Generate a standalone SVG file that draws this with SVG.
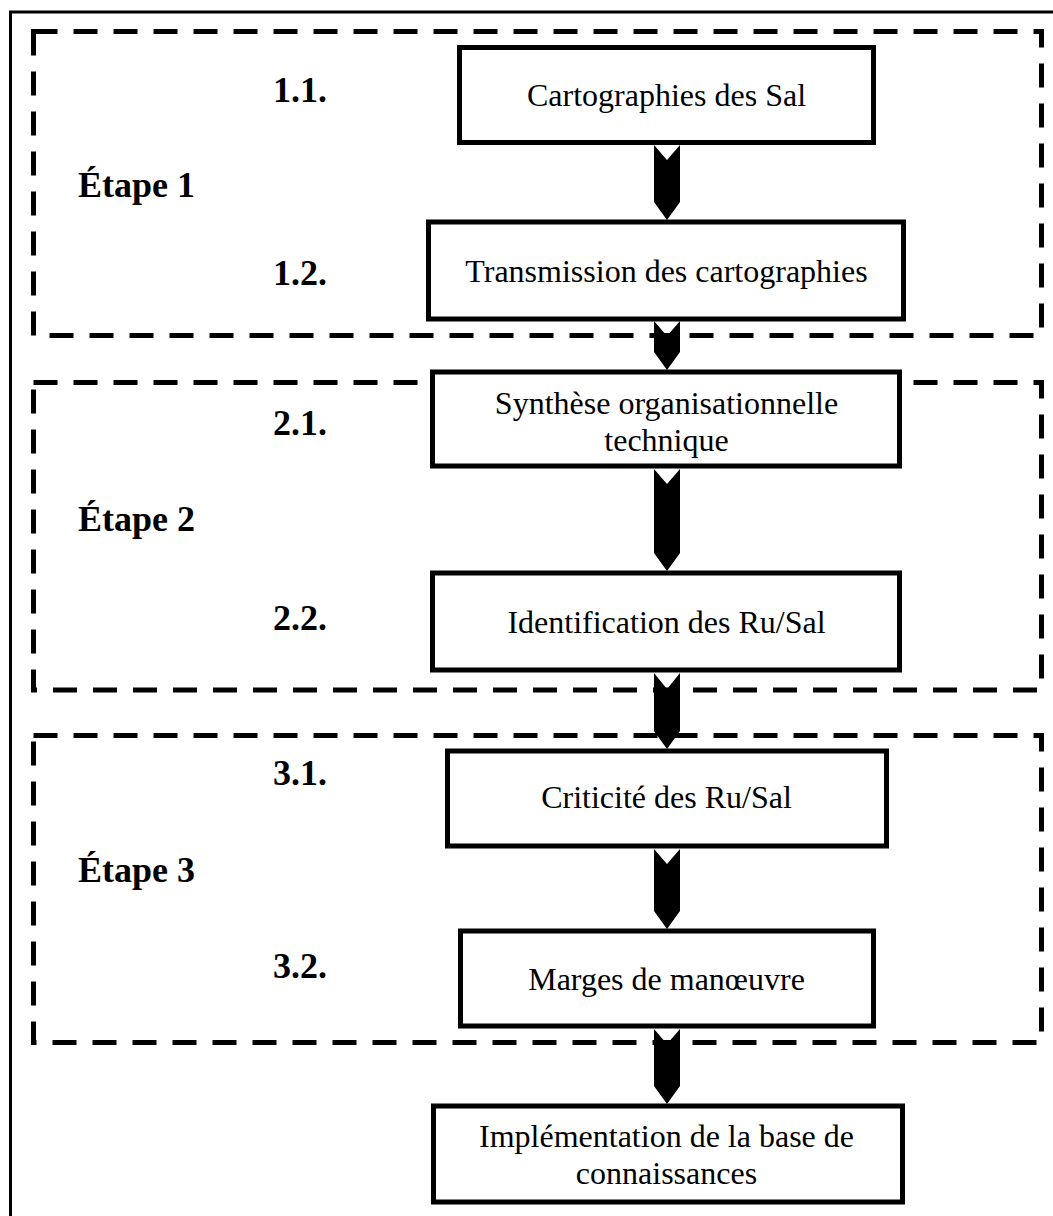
<svg xmlns="http://www.w3.org/2000/svg" width="1053" height="1216" viewBox="0 0 1053 1216">
  <style>
    .frame { fill: none; stroke: #000; stroke-width: 3; }
    .stage { fill: none; stroke: #000; stroke-width: 5; stroke-dasharray: 24 16; }
    .box { fill: #fff; stroke: #000; stroke-width: 5; }
    .txt { font-family: "Liberation Serif", "Times New Roman", serif; font-size: 32px; fill: #000; text-anchor: middle; }
    .lbl { font-family: "Liberation Serif", "Times New Roman", serif; font-size: 36px; font-weight: bold; fill: #000; }
    .arrow { fill: #000; stroke: none; }
  </style>
  <rect width="1053" height="1216" fill="#fff"/>

  <!-- outer frame (continues past the right and bottom edges) -->
  <rect class="frame" x="10.5" y="12" width="1060" height="1230"/>

  <!-- stage outlines -->
  <g id="stages">
    <rect id="stage1" class="stage" x="33.5" y="31.5" width="1008" height="304"/>
    <rect id="stage2" class="stage" x="33.5" y="382.5" width="1008" height="307.5"/>
    <rect id="stage3" class="stage" x="33.5" y="735.5" width="1008" height="307"/>
  </g>

  <!-- stage and step labels -->
  <g id="labels">
    <text class="lbl" x="78" y="197">Étape 1</text>
    <text class="lbl" x="273" y="102">1.1.</text>
    <text class="lbl" x="273" y="285">1.2.</text>
    <text class="lbl" x="78" y="531">Étape 2</text>
    <text class="lbl" x="273" y="435">2.1.</text>
    <text class="lbl" x="273" y="630">2.2.</text>
    <text class="lbl" x="78" y="882">Étape 3</text>
    <text class="lbl" x="273" y="785">3.1.</text>
    <text class="lbl" x="273" y="978">3.2.</text>
  </g>

  <!-- process boxes -->
  <g id="n11">
    <rect class="box" x="459.5" y="47.5" width="414" height="95"/>
    <text class="txt" x="666.5" y="106">Cartographies des Sal</text>
  </g>
  <g id="n12">
    <rect class="box" x="428.5" y="222" width="475" height="97"/>
    <text class="txt" x="666.5" y="282">Transmission des cartographies</text>
  </g>
  <g id="n21">
    <rect class="box" x="432.5" y="372" width="467" height="94"/>
    <text class="txt" x="666.5" y="414">Synthèse organisationnelle</text>
    <text class="txt" x="666.5" y="451">technique</text>
  </g>
  <g id="n22">
    <rect class="box" x="432.5" y="573" width="467" height="97"/>
    <text class="txt" x="666.5" y="633">Identification des Ru/Sal</text>
  </g>
  <g id="n31">
    <rect class="box" x="447.5" y="751" width="439" height="95"/>
    <text class="txt" x="666.5" y="808">Criticité des Ru/Sal</text>
  </g>
  <g id="n32">
    <rect class="box" x="460.5" y="931" width="413" height="95"/>
    <text class="txt" x="666.5" y="990">Marges de manœuvre</text>
  </g>
  <g id="nfinal">
    <rect class="box" x="433.5" y="1106" width="469" height="96"/>
    <text class="txt" x="666.5" y="1147">Implémentation de la base de</text>
    <text class="txt" x="666.5" y="1184">connaissances</text>
  </g>

  <!-- notched block arrows between steps -->
  <g id="connectors">
    <polygon class="arrow" points="654,145 667,160 680,145 680,202 667,220 654,202"/>
    <polygon class="arrow" points="654,321 667,336 680,321 680,352 667,370 654,352"/>
    <polygon class="arrow" points="654,469 667,484 680,469 680,553 667,571 654,553"/>
    <polygon class="arrow" points="654,673 667,689 680,673 680,731 667,749 654,731"/>
    <polygon class="arrow" points="654,849 667,864 680,849 680,911 667,929 654,911"/>
    <polygon class="arrow" points="654,1029 667,1044 680,1029 680,1086 667,1104 654,1086"/>
  </g>
</svg>
